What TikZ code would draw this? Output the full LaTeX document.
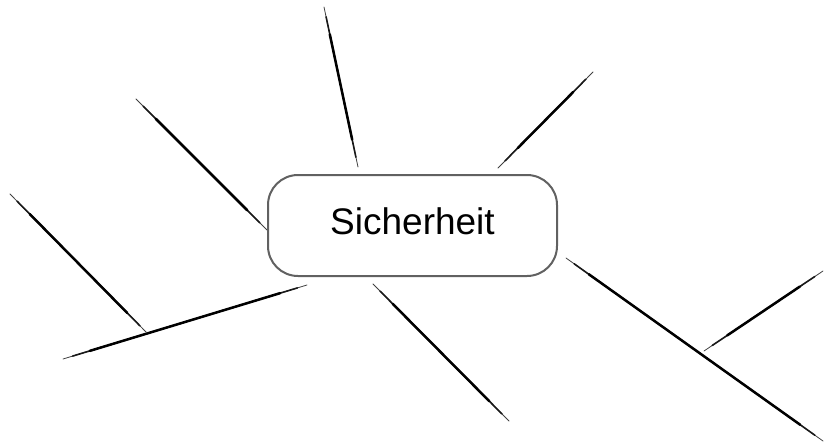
\documentclass[tikz,border=0pt]{standalone}
\usepackage{fontspec}
\setmainfont{Liberation Sans}
\begin{document}
\begin{tikzpicture}[x=1pt,y=-1pt,
  topic/.style={draw=black!62,line width=2pt,rounded corners=30pt,fill=white,
    minimum width=289pt,minimum height=101pt,inner sep=0pt,
    font=\fontsize{37}{40}\selectfont,text height=27pt,text depth=10pt},
  thinstroke/.style={draw=black!75,line width=0.8pt,line cap=round},
  midstroke/.style={draw=black!90,line width=1.6pt,line cap=round,shorten <=10pt,shorten >=10pt},
  thickstroke/.style={draw=black,line width=2.5pt,line cap=round,shorten <=28pt,shorten >=28pt}]
\useasboundingbox (0,0) rectangle (825,447);
% far ends and attachment points
\coordinate (a1) at (358,167);  \coordinate (b1) at (324,7);
\coordinate (a2) at (498,168);  \coordinate (b2) at (593,72);
\coordinate (a3) at (267,230);  \coordinate (b3) at (136,99);
\coordinate (a4) at (307,285);  \coordinate (b4) at (63,359);
\coordinate (c4) at (147,333);  \coordinate (d4) at (10,194);
\coordinate (a5) at (373,284);  \coordinate (b5) at (509,421);
\coordinate (a6) at (566,258);  \coordinate (b6) at (823,441);
\coordinate (c6) at (704,351);  \coordinate (d6) at (823,271);
\foreach \p/\q in {a1/b1,a2/b2,a3/b3,a4/b4,d4/c4,a5/b5,a6/b6,c6/d6}{
  \draw[thinstroke] (\p) -- (\q);
  \draw[midstroke] (\p) -- (\q);
  \draw[thickstroke] (\p) -- (\q);
}
\node[topic] (n) at (412.5,225.5) {Sicherheit};
\end{tikzpicture}
\end{document}
